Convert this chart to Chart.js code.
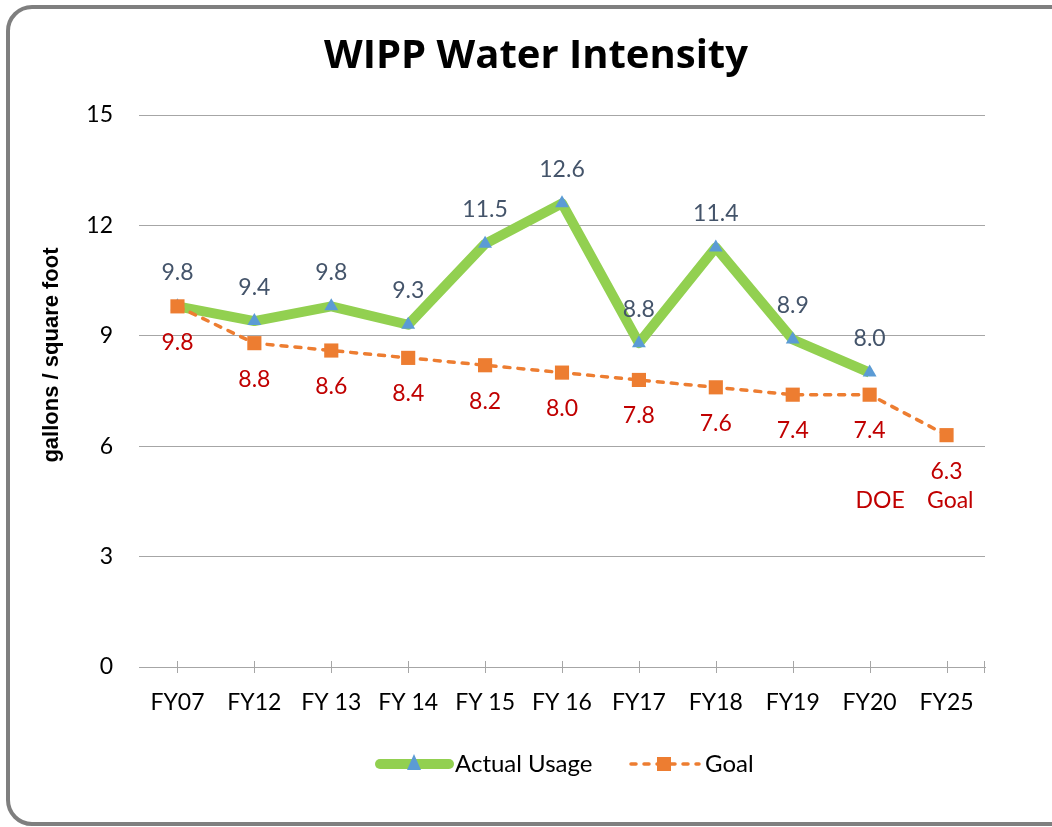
<!DOCTYPE html>
<html>
<head>
<meta charset="utf-8">
<script src="https://cdn.jsdelivr.net/npm/chart.js@4/dist/chart.umd.min.js"></script>
<style>
  html, body { margin: 0; padding: 0; background: #fff; overflow: hidden; }
  #wrap { position: relative; width: 1052px; height: 827px; overflow: hidden; }
  #frame { position: absolute; left: 6px; top: 5px; width: 1100px; height: 821px; box-sizing: border-box;
           border: 4px solid #7f7f7f; border-radius: 26px; pointer-events: none; }
  #myChart { position: absolute; left: 0; top: 0; }
</style>
</head>
<body>
<div id="wrap">
  <canvas id="myChart" width="1072" height="827"></canvas>
  <div id="frame"></div>
</div>
<script>
// =================================== 数据 =================================== //
var categories = ['FY07', 'FY12', 'FY 13', 'FY 14', 'FY 15', 'FY 16', 'FY17', 'FY18', 'FY19', 'FY20', 'FY25'];
var actualUsage = [9.8, 9.4, 9.8, 9.3, 11.5, 12.6, 8.8, 11.4, 8.9, 8.0, null];
var goalValues = [9.8, 8.8, 8.6, 8.4, 8.2, 8.0, 7.8, 7.6, 7.4, 7.4, 6.3];
var yTicks = [0, 3, 6, 9, 12, 15];

var sFont = 'Lato, "Open Sans", sans-serif';
var cGreen = '#92D050';
var cBlue = '#5B9BD5';
var cOrange = '#ED7D31';
var cGrid = '#A6A6A6';

// 数据标签 + 刻度 + 图例 + 轴标题
var extrasPlugin = {
    id: 'extras',
    afterDatasetsDraw: function (chart) {
        var ctx = chart.ctx;
        var area = chart.chartArea;
        var xs = chart.scales.x;
        ctx.save();
        // x轴刻度线（穿过轴线）
        ctx.strokeStyle = cGrid;
        ctx.lineWidth = 1;
        ctx.beginPath();
        for (var i = 0; i < categories.length; i++) {
            var tx = Math.round(xs.getPixelForTick(i)) + 0.5;
            ctx.moveTo(tx, area.bottom - 6);
            ctx.lineTo(tx, area.bottom + 6);
        }
        ctx.moveTo(Math.round(area.right) - 0.5, area.bottom - 6);
        ctx.lineTo(Math.round(area.right) - 0.5, area.bottom + 6);
        ctx.stroke();

        // 数据标签
        ctx.font = '23px ' + sFont;
        ctx.textAlign = 'center';
        ctx.textBaseline = 'middle';
        var mA = chart.getDatasetMeta(0);
        ctx.fillStyle = '#44546A';
        mA.data.forEach(function (pt, k) {
            if (actualUsage[k] === null) return;
            ctx.fillText(actualUsage[k].toFixed(1), pt.x, pt.y - 34);
        });
        var mG = chart.getDatasetMeta(1);
        ctx.fillStyle = '#C00000';
        mG.data.forEach(function (pt, k) {
            ctx.fillText(goalValues[k].toFixed(1), pt.x, pt.y + 36);
            if (k === goalValues.length - 1) {
                ctx.textAlign = 'left';
                ctx.fillText('DOE', pt.x - 91, pt.y + 65);
                ctx.textAlign = 'right';
                ctx.fillText('Goal', pt.x + 27, pt.y + 65);
                ctx.textAlign = 'center';
            }
        });
        ctx.restore();
    },
    afterDraw: function (chart) {
        var ctx = chart.ctx;
        ctx.save();
        // y轴标题
        ctx.translate(52, 355);
        ctx.rotate(-Math.PI / 2);
        ctx.font = 'bold 22px "Liberation Sans", Arial, sans-serif';
        ctx.fillStyle = '#000';
        ctx.textAlign = 'center';
        ctx.textBaseline = 'middle';
        ctx.fillText('gallons / square foot', 0, 0);
        ctx.restore();

        // 图例
        var ly = 764;
        ctx.save();
        ctx.lineCap = 'round';
        ctx.strokeStyle = cGreen;
        ctx.lineWidth = 10;
        ctx.beginPath();
        ctx.moveTo(380, ly);
        ctx.lineTo(449, ly);
        ctx.stroke();
        ctx.fillStyle = cBlue;
        ctx.beginPath();
        ctx.moveTo(414, ly - 10);
        ctx.lineTo(421, ly + 6);
        ctx.lineTo(407, ly + 6);
        ctx.closePath();
        ctx.fill();

        ctx.strokeStyle = cOrange;
        ctx.lineWidth = 3.5;
        ctx.setLineDash([5, 8]);
        ctx.beginPath();
        ctx.moveTo(631, ly);
        ctx.lineTo(699, ly);
        ctx.stroke();
        ctx.setLineDash([]);
        ctx.fillStyle = cOrange;
        ctx.fillRect(657, ly - 7, 14, 14);

        ctx.font = '24px ' + sFont;
        ctx.fillStyle = '#000';
        ctx.textAlign = 'left';
        ctx.textBaseline = 'middle';
        ctx.fillText('Actual Usage', 455, ly);
        ctx.fillText('Goal', 705, ly);
        ctx.restore();
    }
};

// =================================== 图表 =================================== //
function setChart() {
    var ctx = document.getElementById('myChart');
    var chart = new Chart(ctx, {
        type: 'line',
        data: {
            labels: categories,
            datasets: [
                {
                    label: 'Actual Usage',
                    data: actualUsage,
                    borderColor: cGreen,
                    borderWidth: 10,
                    borderJoinStyle: 'round',
                    pointStyle: 'triangle',
                    pointRadius: 8,
                    pointBackgroundColor: cBlue,
                    pointBorderWidth: 0,
                    order: 1
                },
                {
                    label: 'Goal',
                    data: goalValues,
                    borderColor: cOrange,
                    borderWidth: 3.5,
                    borderDash: [6, 8],
                    borderCapStyle: 'round',
                    pointStyle: 'rect',
                    pointRadius: 10,
                    pointBackgroundColor: cOrange,
                    pointBorderWidth: 0,
                    order: 0
                }
            ]
        },
        options: {
            responsive: false,
            animation: false,
            layout: { padding: { left: 0, right: 0, top: 0, bottom: 85 } },
            plugins: {
                legend: { display: false },
                tooltip: { enabled: false },
                title: {
                    display: true,
                    text: 'WIPP Water Intensity',
                    color: '#000',
                    font: { family: '"Open Sans", Lato, sans-serif', size: 40, weight: 'bold', lineHeight: 1.2 },
                    padding: { top: 33, bottom: 34 }
                }
            },
            scales: {
                x: {
                    offset: true,
                    grid: { display: false, drawTicks: false },
                    border: { display: true, color: cGrid, width: 1 },
                    ticks: { color: '#000', padding: 22, font: { family: sFont, size: 23 } },
                    afterFit: function (scale) { scale.height = 75; }
                },
                y: {
                    min: 0,
                    max: 15,
                    afterBuildTicks: function (scale) {
                        scale.ticks = yTicks.map(function (v) { return { value: v }; });
                    },
                    grid: { color: cGrid, lineWidth: 1, drawTicks: false },
                    border: { display: false },
                    ticks: { color: '#000', padding: 26, font: { family: sFont, size: 23 } },
                    afterFit: function (scale) { scale.width = 139; }
                },
                // 右侧空白（不可见）轴，用来留出右边距
                yRight: {
                    position: 'right',
                    min: 0,
                    max: 15,
                    grid: { display: false, drawTicks: false },
                    border: { display: false },
                    ticks: { display: false },
                    afterFit: function (scale) { scale.width = 87; }
                }
            }
        },
        plugins: [extrasPlugin]
    });
}
setChart();
</script>
</body>
</html>
